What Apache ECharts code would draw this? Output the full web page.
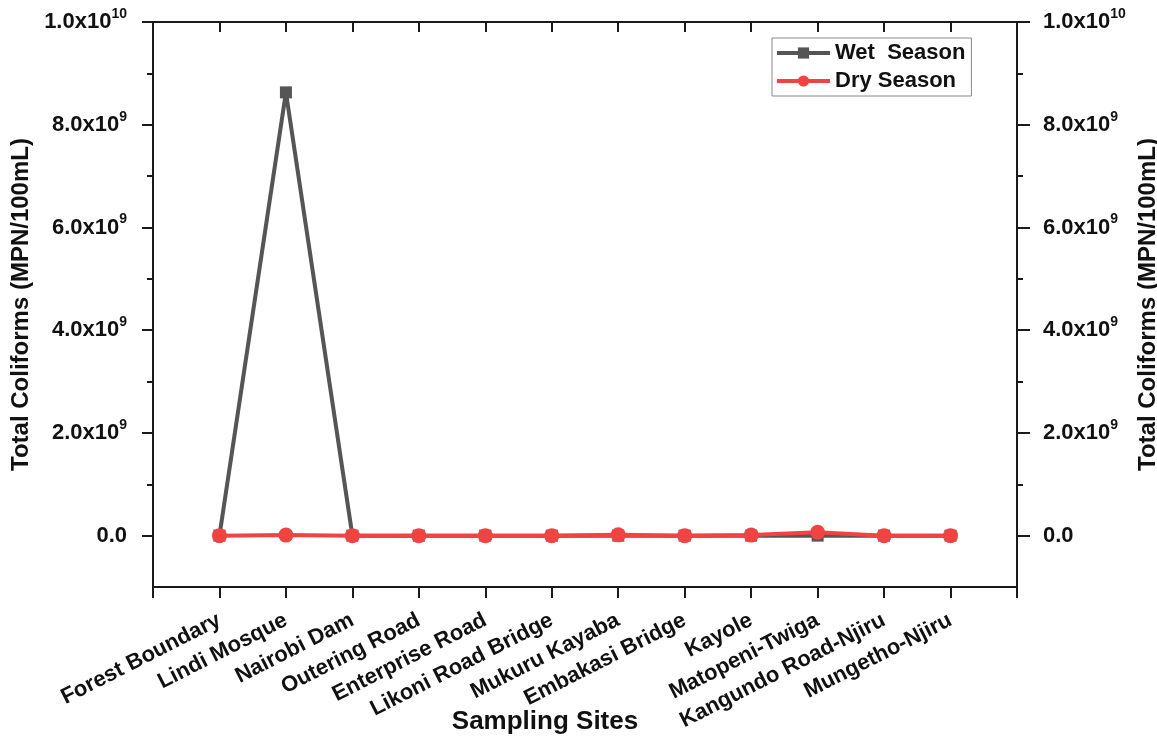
<!DOCTYPE html>
<html>
<head>
<meta charset="utf-8">
<script src="https://cdn.jsdelivr.net/npm/echarts@6/dist/echarts.min.js"></script>
<style>html,body{margin:0;padding:0;background:#fff}#c{width:1157px;height:738px}</style>
</head>
<body>
<div id="c"></div>
<script>
const sites = ['Forest Boundary','Lindi Mosque','Nairobi Dam','Outering Road','Enterprise Road','Likoni Road Bridge','Mukuru Kayaba','Embakasi Bridge','Kayole','Matopeni-Twiga','Kangundo Road-Njiru','Mungetho-Njiru'];
const wetSeason = [0, 8.63e9, 0, 0, 0, 0, 0, 0, 0, 0, 0, 0];
const drySeason = [0, 1.0e7, 0, 0, 0, 0, 1.5e7, 0, 1.0e7, 6.5e7, 0, 0];
const majorTicks = [0, 2e9, 4e9, 6e9, 8e9, 1e10];
const minorTicks = [1e9, 3e9, 5e9, 7e9, 9e9];

const FONT = 'Liberation Sans, Arial, sans-serif';
const cats = [''].concat(sites, ['']);
const pad = a => [null].concat(a, [null]);

function fmt(v){
  if (v === 0) return '{b|0.0}';
  const ex = Math.floor(Math.log10(Math.abs(v)) + 1e-9);
  const m = v / Math.pow(10, ex);
  return '{b|' + m.toFixed(1) + 'x10}{s|' + ex + '}';
}
const rich = {
  b: {fontSize: 22, fontWeight: 'bold', color: '#111', fontFamily: FONT, lineHeight: 30},
  s: {fontSize: 14, fontWeight: 'bold', color: '#111', fontFamily: FONT, verticalAlign: 'top', lineHeight: 30}
};
const axisLineStyle = {color: '#1a1a1a', width: 2};
const yBase = {type: 'value', min: -1e9, max: 1e10, interval: 1e9, splitLine: {show: false}, gridIndex: 0};
const yName = 'Total Coliforms (MPN/100mL)';
const nameStyle = {fontSize: 24, fontWeight: 'bold', color: '#111', fontFamily: FONT};
const tickStyle = {width: 2, color: '#1a1a1a'};

const chart = echarts.init(document.getElementById('c'), null, {renderer: 'canvas'});
chart.setOption({
  animation: false,
  backgroundColor: '#fff',
  grid: {left: 153, right: 140, top: 22, bottom: 151, containLabel: false, outerBoundsMode: 'none'},
  legend: {
    orient: 'vertical', left: 772, top: 38,
    data: ['Wet  Season', 'Dry Season'],
    itemWidth: 53, itemHeight: 14, itemGap: 6,
    padding: [4, 6, 4, 3],
    borderColor: '#888', borderWidth: 1,
    lineStyle: {width: 4},
    textStyle: {fontSize: 22, fontWeight: 'bold', color: '#111', fontFamily: FONT}
  },
  xAxis: [
    {type: 'category', data: cats, boundaryGap: false, position: 'bottom',
     axisLine: {onZero: false, lineStyle: axisLineStyle},
     axisTick: {show: true, interval: 0, length: 11, lineStyle: tickStyle},
     axisLabel: {interval: 0, rotate: 27, margin: 32, fontSize: 22, fontWeight: 'bold', color: '#111', fontFamily: FONT},
     splitLine: {show: false}},
    {type: 'category', data: cats, boundaryGap: false, position: 'top',
     axisLine: {onZero: false, lineStyle: axisLineStyle},
     axisTick: {show: true, inside: true, interval: 0, length: 10, lineStyle: tickStyle},
     axisLabel: {show: false}, splitLine: {show: false}}
  ],
  yAxis: [
    Object.assign({}, yBase, {position: 'left',
      axisLine: {show: true, onZero: false, lineStyle: axisLineStyle},
      axisTick: {show: true, length: 11, customValues: majorTicks, lineStyle: tickStyle},
      axisLabel: {customValues: majorTicks, formatter: fmt, rich: rich, margin: 26},
      name: yName, nameLocation: 'middle', nameGap: 111, nameTextStyle: nameStyle}),
    Object.assign({}, yBase, {position: 'right',
      axisLine: {show: true, onZero: false, lineStyle: axisLineStyle},
      axisTick: {show: true, length: 13, customValues: majorTicks, lineStyle: tickStyle},
      axisLabel: {customValues: majorTicks, formatter: fmt, rich: rich, margin: 26},
      name: yName, nameLocation: 'middle', nameGap: 114, nameRotate: 90, nameTextStyle: nameStyle}),
    Object.assign({}, yBase, {position: 'left',
      axisLine: {show: false, onZero: false},
      axisTick: {show: true, length: 6, customValues: minorTicks, lineStyle: tickStyle},
      axisLabel: {show: false}}),
    Object.assign({}, yBase, {position: 'right',
      axisLine: {show: false, onZero: false},
      axisTick: {show: true, length: 6, customValues: minorTicks, lineStyle: tickStyle},
      axisLabel: {show: false}})
  ],
  graphic: [{
    type: 'text', x: 545, y: 722,
    style: {text: 'Sampling Sites', fontSize: 26, fontWeight: 'bold', fill: '#111', fontFamily: FONT,
            textAlign: 'center', textVerticalAlign: 'middle'}
  }],
  series: [
    {name: 'Wet  Season', type: 'line', data: pad(wetSeason), xAxisIndex: 0, yAxisIndex: 0,
     symbol: 'rect', symbolSize: 12, showAllSymbol: true,
     lineStyle: {color: '#555555', width: 4}, itemStyle: {color: '#555555'}, z: 2},
    {name: 'Dry Season', type: 'line', data: pad(drySeason), xAxisIndex: 0, yAxisIndex: 0,
     symbol: 'circle', symbolSize: 15, showAllSymbol: true,
     lineStyle: {color: '#f24343', width: 4}, itemStyle: {color: '#f24343'}, z: 3}
  ]
});
</script>
</body>
</html>
